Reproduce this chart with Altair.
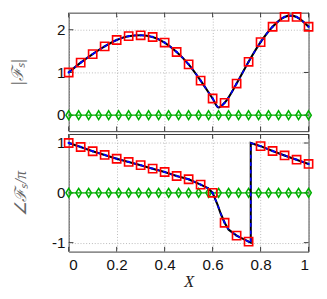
import altair as alt
import pandas as pd

# ---- data ----
x_pts = [0.0, 0.05, 0.1, 0.15, 0.2, 0.25, 0.3, 0.35, 0.4, 0.45, 0.5,
         0.55, 0.6, 0.65, 0.7, 0.75, 0.8, 0.85, 0.9, 0.95, 1.0]
mag_pts = [1.00, 1.23, 1.43, 1.61, 1.76, 1.85, 1.87, 1.83, 1.70, 1.48, 1.19,
           0.81, 0.39, 0.29, 0.74, 1.25, 1.71, 2.07, 2.30, 2.30, 2.07]
phase_pts = [1.00, 0.92, 0.835, 0.76, 0.684, 0.62, 0.555, 0.485, 0.418, 0.337, 0.272,
             0.165, 0.0, -0.60, -0.86, -0.98, 0.937, 0.84, 0.75, 0.665, 0.58]

mag_curve_x = [0.0, 0.05, 0.1, 0.15, 0.2, 0.25, 0.3, 0.35, 0.4, 0.45, 0.5,
               0.55, 0.6, 0.625, 0.65, 0.7, 0.75, 0.8, 0.85, 0.9, 0.925, 0.95, 1.0]
mag_curve_y = [1.00, 1.23, 1.43, 1.61, 1.76, 1.85, 1.87, 1.83, 1.70, 1.48, 1.19,
               0.81, 0.39, 0.18, 0.29, 0.74, 1.25, 1.71, 2.07, 2.30, 2.33, 2.30, 2.07]

phase_curve_x = [0.0, 0.05, 0.1, 0.15, 0.2, 0.25, 0.3, 0.35, 0.4, 0.45, 0.5, 0.55,
                 0.58, 0.594, 0.6, 0.62, 0.634, 0.65, 0.667, 0.7, 0.75,
                 0.759, 0.759, 0.8, 0.85, 0.9, 0.95, 1.0]
phase_curve_y = [1.00, 0.92, 0.835, 0.76, 0.684, 0.62, 0.555, 0.485, 0.418, 0.337, 0.272, 0.165,
                 0.095, 0.03, 0.0, -0.23, -0.42, -0.60, -0.74, -0.86, -0.98,
                 -1.0, 1.0, 0.937, 0.84, 0.75, 0.665, 0.58]

green_x = [0.0, 0.0417, 0.0833, 0.125, 0.1667, 0.2083, 0.25, 0.2917, 0.3333, 0.375,
           0.4167, 0.4583, 0.5, 0.5417, 0.5833, 0.625, 0.6667, 0.7083, 0.75, 0.7917,
           0.8333, 0.875, 0.9167, 0.9583, 1.0]
green_y = [0, 0, 0, 0, 0, 0, 0, 0, 0, 0, 0, 0, 0, 0, 0, 0, 0, 0, 0, 0, 0, 0, 0, 0, 0]

x_ticks = [0, 0.2, 0.4, 0.6, 0.8, 1.0]
top_ticks = [0, 1, 2]
bot_ticks = [-1, 0, 1]

W = 253
H_TOP = 125
H_BOT = 124
FRAME = "#333333"
GREEN = "#00b000"
DIAMOND = "M0,-1L0.62,0L0,1L-0.62,0Z"


def panel(cx, cy, py, ydom, yticks, height, ytitle, tpad, show_x, interp):
    curve = pd.DataFrame({"x": cx, "y": cy, "o": list(range(len(cx)))})
    pts = pd.DataFrame({"x": x_pts, "y": py})
    green = pd.DataFrame({"x": green_x, "y": green_y})
    xt = pd.DataFrame({"x": x_ticks})
    yt = pd.DataFrame({"y": yticks})

    X = alt.X("x:Q", scale=alt.Scale(domain=[0, 1], nice=False, zero=False),
              axis=alt.Axis(values=x_ticks, labels=show_x, title="X" if show_x else None,
                            grid=True, ticks=False, domain=False, format="~g",
                            labelPadding=6 if show_x else 0, titlePadding=2))
    Y = alt.Y("y:Q", scale=alt.Scale(domain=ydom, nice=False, zero=False),
              axis=alt.Axis(values=yticks, title=ytitle, grid=True, ticks=False, domain=False,
                            format="~g", labelPadding=4, titlePadding=tpad,
                            labelExpr="replace(datum.label, '\u2212', '-')"))

    tick_top = alt.Chart(xt).mark_rule(color=FRAME).encode(x=X, y=alt.value(0), y2=alt.value(5))
    tick_bot = alt.Chart(xt).mark_rule(color=FRAME).encode(x=X, y=alt.value(height - 5), y2=alt.value(height))
    tick_l = alt.Chart(yt).mark_rule(color=FRAME).encode(y=Y, x=alt.value(0), x2=alt.value(5))
    tick_r = alt.Chart(yt).mark_rule(color=FRAME).encode(y=Y, x=alt.value(W - 5), x2=alt.value(W))

    g_line = alt.Chart(green).mark_line(color=GREEN, strokeWidth=1.2).encode(x=X, y=Y)
    g_pts = alt.Chart(green).mark_point(shape=DIAMOND, size=85, filled=False, color=GREEN,
                                        strokeWidth=1.6, opacity=1).encode(x=X, y=Y)

    k_line = alt.Chart(curve).mark_line(color="black", strokeWidth=2.2, interpolate=interp).encode(
        x=X, y=Y, order="o:Q")
    b_line = alt.Chart(curve).mark_line(color="#0000ff", strokeWidth=1.6, strokeDash=[4, 4],
                                        interpolate=interp).encode(x=X, y=Y, order="o:Q")
    sq = alt.Chart(pts).mark_point(shape="square", size=75, filled=False, color="#ff0000",
                                   strokeWidth=1.7, opacity=1).encode(x=X, y=Y)
    dot = alt.Chart(pts).mark_point(shape="circle", size=6, filled=True, color="#0000ff",
                                    opacity=1).encode(x=X, y=Y)

    return alt.layer(tick_top, tick_bot, tick_l, tick_r, g_line, g_pts,
                     k_line, b_line, sq, dot).properties(width=W, height=height)


top = panel(mag_curve_x, mag_curve_y, mag_pts, [-0.375, 2.4], top_ticks, H_TOP,
            "|\u2131\u209b|", 32, False, "monotone")
bot = panel(phase_curve_x, phase_curve_y, phase_pts, [-1.18, 1.18], bot_ticks, H_BOT,
            "\u2220\u2131\u209b/\u03c0", 23, True, "linear")

chart = alt.vconcat(top, bot, spacing=1).properties(
    padding={"left": 0, "top": -7, "right": 2, "bottom": 0}
).configure_view(
    stroke=FRAME, strokeWidth=1
).configure_axis(
    labelFont="Liberation Sans", labelFontSize=16, labelColor="#111111",
    titleFont="Liberation Serif", titleFontSize=17, titleFontStyle="italic",
    titleFontWeight="normal", titleColor="#666666",
    gridColor="#b5b5b5", gridDash=[1, 2], gridWidth=1
).configure_axisX(titleColor="#222222", titleFontSize=17)

chart.save("out.html", embed_options={"renderer": "svg", "actions": False})
